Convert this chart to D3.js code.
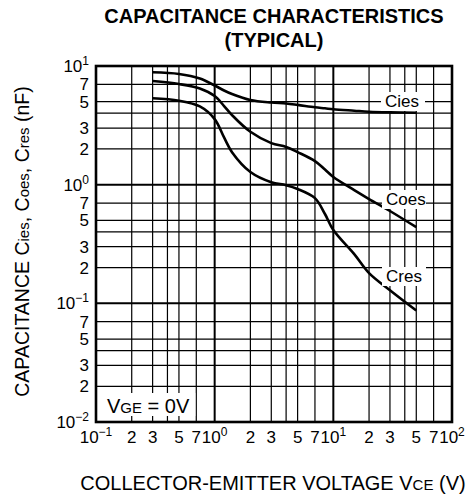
<!DOCTYPE html>
<html><head><meta charset="utf-8">
<script src="https://cdn.jsdelivr.net/npm/d3@7"></script>
<style>
body{margin:0;background:#fff;}
text{font-family:"Liberation Sans",Arial,Helvetica,sans-serif;fill:#000;}
</style>
</head><body><svg id="c" width="475" height="495"></svg>
<script>
// ---- data ----
const vce  = [0.3, 0.5, 0.75, 1, 1.2, 1.4, 2, 3, 4, 5, 7, 8.5, 10, 15, 20, 30, 50];
const cies = [8.85, 8.57, 7.85, 6.85, 6.22, 5.81, 5.17, 4.92, 4.83, 4.70, 4.49, 4.40, 4.32, 4.20, 4.12, 4.07, 4.04];
const coes = [7.48, 7.05, 6.46, 5.58, 4.60, 3.86, 2.79, 2.24, 2.08, 1.88, 1.58, 1.34, 1.16, 0.90, 0.757, 0.60, 0.438];
const cres = [5.35, 5.10, 4.56, 3.57, 2.50, 1.88, 1.28, 1.05, 0.99, 0.92, 0.77, 0.566, 0.415, 0.26, 0.18, 0.129, 0.087];
const seriesNames = ["Cies", "Coes", "Cres"];
const decades = [0.01, 0.1, 1, 10, 100];
const gridMultipliers = [2, 3, 4, 5, 7];
const labelMultipliers = [2, 3, 5, 7];
const titleLines = ["CAPACITANCE CHARACTERISTICS", "(TYPICAL)"];

const svg = d3.select("#c");
const x = d3.scaleLog().domain([0.1, 100]).range([96, 452]);
const y = d3.scaleLog().domain([0.01, 10]).range([422, 66]);

// grid values
const xDec = decades.filter(d => d >= 0.1 && d <= 100);
const yDec = decades.filter(d => d >= 0.01 && d <= 10);
const xMinor = xDec.slice(0, -1).flatMap(d => gridMultipliers.map(m => d * m));
const yMinor = yDec.slice(0, -1).flatMap(d => gridMultipliers.map(m => d * m));

const g = svg.append("g");
g.selectAll(".vx").data(xMinor).join("line")
  .attr("x1", d => x(d)).attr("x2", d => x(d)).attr("y1", y(10)).attr("y2", y(0.01))
  .attr("stroke", "#000").attr("stroke-width", 1.2);
g.selectAll(".hy").data(yMinor).join("line")
  .attr("y1", d => y(d)).attr("y2", d => y(d)).attr("x1", x(0.1)).attr("x2", x(100))
  .attr("stroke", "#000").attr("stroke-width", 1.2);
g.selectAll(".vxd").data(xDec).join("line")
  .attr("x1", d => x(d)).attr("x2", d => x(d)).attr("y1", y(10)).attr("y2", y(0.01))
  .attr("stroke", "#000").attr("stroke-width", 2);
g.selectAll(".hyd").data(yDec).join("line")
  .attr("y1", d => y(d)).attr("y2", d => y(d)).attr("x1", x(0.1)).attr("x2", x(100))
  .attr("stroke", "#000").attr("stroke-width", 2);

// VGE box (white background covering grid)
const vgeBox = svg.append("g");
vgeBox.append("rect").attr("x", x(0.1)).attr("y", 393).attr("width", x(0.7) - x(0.1) - 1).attr("height", 23).attr("fill", "#fff");
const vt = vgeBox.append("text").attr("x", 107).attr("y", 413).attr("font-size", 20);
vt.append("tspan").text("V");
vt.append("tspan").attr("font-size", 15).text("GE");
vt.append("tspan").text(" = 0V");

// curves
const line = d3.line().x(d => x(d[0])).y(d => y(d[1])).curve(d3.curveCatmullRom.alpha(0.5));
[cies, coes, cres].forEach(s => {
  svg.append("path").datum(vce.map((v, i) => [v, s[i]]))
    .attr("d", line).attr("fill", "none").attr("stroke", "#000").attr("stroke-width", 2.6)
    .attr("stroke-linejoin", "round");
});

// series labels with white background
const labelPos = [[385, 107], [386, 205], [386, 282]];
seriesNames.forEach((n, i) => {
  const [lx, ly] = labelPos[i];
  svg.append("rect").attr("x", lx - 4).attr("y", ly - 15).attr("width", 44).attr("height", 19).attr("fill", "#fff");
  svg.append("text").attr("x", lx).attr("y", ly).attr("font-size", 17).text(n);
});

// frame
svg.append("rect").attr("x", x(0.1)).attr("y", y(10)).attr("width", x(100) - x(0.1)).attr("height", y(0.01) - y(10))
  .attr("fill", "none").attr("stroke", "#000").attr("stroke-width", 2.6);

// tick labels
const exp = d => { const e = Math.round(Math.log10(d)); return e < 0 ? "\u2212" + (-e) : String(e); };
const xLab = xDec.flatMap((d, i) => i < xDec.length - 1 ? [d, ...labelMultipliers.map(m => d * m)] : [d]);
const yLab = yDec.flatMap((d, i) => i < yDec.length - 1 ? [d, ...labelMultipliers.map(m => d * m)] : [d]);
const isDec = d => Math.abs(Math.log10(d) - Math.round(Math.log10(d))) < 1e-9;
const lead = d => String(Math.round(d / Math.pow(10, Math.floor(Math.log10(d) + 1e-9))));

xLab.forEach(d => {
  const t = svg.append("text").attr("x", x(d)).attr("y", 443).attr("text-anchor", "middle").attr("font-size", 17);
  if (isDec(d)) { t.append("tspan").text("10"); t.append("tspan").attr("dy", -7).attr("font-size", 12).text(exp(d)); }
  else t.text(lead(d));
});
yLab.forEach(d => {
  const t = svg.append("text").attr("x", 89).attr("y", y(d) + 6).attr("text-anchor", "end").attr("font-size", 17);
  if (isDec(d)) { t.append("tspan").text("10"); t.append("tspan").attr("dy", -7).attr("font-size", 12).text(exp(d)); }
  else t.text(lead(d));
});

// titles
titleLines.forEach((s, i) => {
  svg.append("text").attr("x", 274).attr("y", 23 + i * 24).attr("text-anchor", "middle")
    .attr("font-size", 20).attr("font-weight", "bold").text(s);
});
const xt = svg.append("text").attr("x", 273).attr("y", 490).attr("text-anchor", "middle").attr("font-size", 20);
xt.append("tspan").text("COLLECTOR-EMITTER VOLTAGE V");
xt.append("tspan").attr("font-size", 15).text("CE");
xt.append("tspan").text(" (V)");

const yt = svg.append("text").attr("transform", "translate(28.5,241.5) rotate(-90)").attr("text-anchor", "middle").attr("font-size", 19.5);
yt.append("tspan").text("CAPACITANCE C");
yt.append("tspan").attr("font-size", 15).text("ies");
yt.append("tspan").text(", C");
yt.append("tspan").attr("font-size", 15).text("oes");
yt.append("tspan").text(", C");
yt.append("tspan").attr("font-size", 15).text("res");
yt.append("tspan").text(" (nF)");
</script>
</body></html>
